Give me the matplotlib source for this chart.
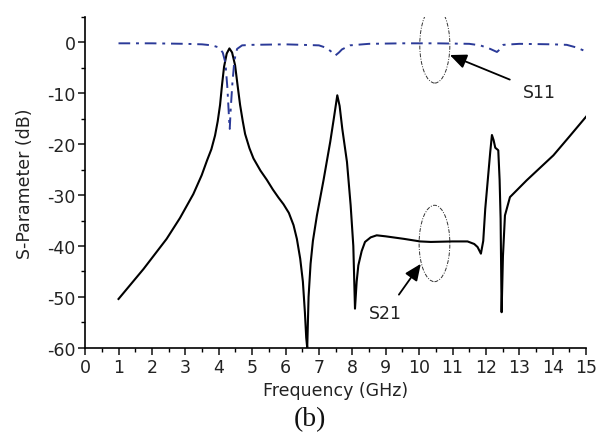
import matplotlib
matplotlib.use('Agg')
import matplotlib.pyplot as plt
from matplotlib.patches import Ellipse
from matplotlib.ticker import MultipleLocator

# S21 (black solid)
f21 = [1.0, 1.75, 2.44, 2.84, 3.24, 3.49, 3.65, 3.78, 3.89, 3.97, 4.04, 4.10, 4.16,
       4.24, 4.32, 4.40, 4.49, 4.56, 4.64, 4.72, 4.79, 4.92, 5.04, 5.25, 5.44, 5.62,
       5.79, 5.94, 6.1, 6.24, 6.34, 6.44, 6.52, 6.58, 6.62, 6.65, 6.69, 6.75, 6.82,
       6.94, 7.14, 7.34, 7.45, 7.55, 7.62, 7.70, 7.84, 7.95, 8.03, 8.08, 8.13, 8.18,
       8.28, 8.38, 8.55, 8.73, 9.0, 9.55, 10.03, 10.35, 11.0, 11.45, 11.65, 11.75,
       11.85, 11.92, 11.98, 12.13, 12.18, 12.23, 12.28, 12.37, 12.41, 12.44, 12.47,
       12.51, 12.57, 12.72, 13.22, 14.02, 14.5, 15.0]
s21 = [-50.4, -44.5, -38.6, -34.5, -29.8, -26.1, -23.2, -21.0, -18.3, -15.5, -12.3, -8.3, -4.8,
       -2.2, -1.2, -2.0, -4.5, -8.2, -12.3, -15.5, -18.0, -20.8, -22.8, -25.2, -27.0, -28.9,
       -30.5, -31.8, -33.5, -35.9, -38.6, -42.5, -47.0, -53.0, -58.0, -60.0, -50.0, -43.5, -39.0,
       -34.0, -27.0, -19.5, -14.8, -10.4, -12.5, -17.0, -23.5, -32.0, -40.0, -52.3, -47.0, -43.8,
       -41.0, -39.2, -38.3, -37.9, -38.1, -38.6, -39.1, -39.2, -39.1, -39.1, -39.6, -40.2,
       -41.5, -39.0, -32.7, -21.5, -18.2, -19.2, -20.7, -21.2, -27.0, -34.6, -53.0,
       -42.0, -34.0, -30.4, -27.1, -22.2, -18.5, -14.6]

# S11 (blue dash-dot)
f11 = [1.0, 2.0, 3.0, 3.5, 3.8, 4.0, 4.12, 4.2, 4.26, 4.31, 4.33, 4.36, 4.41, 4.47,
       4.55, 4.7, 5.0, 6.0, 7.0, 7.23, 7.4, 7.49, 7.6, 7.69, 7.93, 8.5, 9.5, 10.5,
       11.5, 11.83, 12.13, 12.33, 12.45, 12.52, 13.0, 14.0, 14.42, 14.7, 15.0]
s11 = [-0.2, -0.2, -0.3, -0.4, -0.6, -1.0, -2.0, -4.0, -9.0, -15.0, -17.0, -13.0, -8.0, -3.5,
       -1.3, -0.6, -0.5, -0.4, -0.6, -1.1, -2.0, -2.6, -2.0, -1.4, -0.6, -0.3, -0.2, -0.2,
       -0.3, -0.6, -1.3, -1.9, -1.2, -0.5, -0.3, -0.4, -0.5, -1.0, -1.8]

plt.rcParams['font.family'] = ['DejaVu Sans']
plt.rcParams['axes.unicode_minus'] = False
fig = plt.figure(figsize=(6.08, 4.35), dpi=100)
ax = fig.add_axes([0.14, 0.198, 0.824, 0.761])

ax.plot(f21, s21, color='black', lw=1.5)
ax.plot(f11, s11, color='#2b3a98', lw=1.4, linestyle=(0, (6, 3, 1.5, 3)))

# annotation ellipses and arrows
ax.add_patch(Ellipse((10.47, -0.5), 0.9, 15, fill=False, ec='#333333', lw=0.7,
                     linestyle=(0, (4, 1.5, 1, 1.5))))
ax.add_patch(Ellipse((10.46, -39.5), 0.92, 15, fill=False, ec='#333333', lw=0.7,
                     linestyle=(0, (4, 1.5, 1, 1.5))))
ax.annotate('S11', xy=(10.92, -2.5), xytext=(13.6, -9.7), ha='center', va='center',
            fontsize=12.5, color='#222222',
            arrowprops=dict(arrowstyle='-|>,head_length=0.8,head_width=0.35',
                            color='black', lw=1.3, shrinkB=0, shrinkA=8))
ax.annotate('S21', xy=(10.05, -43.5), xytext=(9.0, -53.2), ha='center', va='center',
            fontsize=12.5, color='#222222',
            arrowprops=dict(arrowstyle='-|>,head_length=0.8,head_width=0.35',
                            color='black', lw=1.3, shrinkB=0, shrinkA=6))

ax.set_xlim(0, 15)
ax.set_ylim(-60, 5)
ax.xaxis.set_major_locator(MultipleLocator(1))
ax.xaxis.set_minor_locator(MultipleLocator(0.5))
ax.yaxis.set_major_locator(MultipleLocator(10))
ax.yaxis.set_minor_locator(MultipleLocator(5))
for s in ['top', 'right']:
    ax.spines[s].set_visible(False)
for s in ['left', 'bottom']:
    ax.spines[s].set_linewidth(1.2)
ax.tick_params(which='major', direction='out', length=5, width=1.2, labelsize=12.5,
               colors='#222222', pad=2)
ax.tick_params(which='minor', direction='out', length=3, width=1.0)
ax.set_yticks(range(-60, 1, 10))

ax.set_xlabel('Frequency (GHz)', fontsize=12.5, color='#222222', labelpad=4)
ax.set_ylabel('S-Parameter (dB)', fontsize=12.5, color='#222222', labelpad=9)
fig.text(0.51, 0.035, '(b)', fontsize=20, family='Liberation Serif', ha='center',
         va='center', color='#111111')

fig.savefig('out.png', dpi=100)
